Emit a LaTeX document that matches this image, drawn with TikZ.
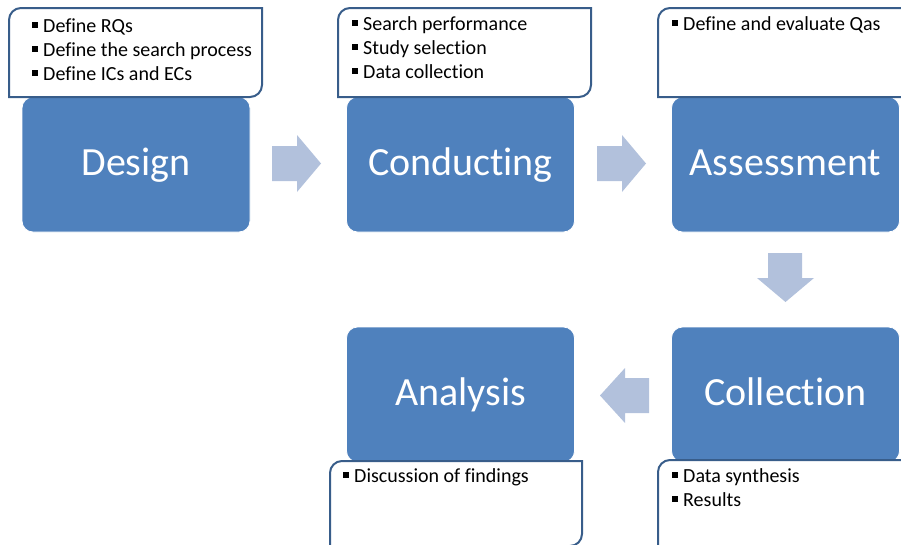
\documentclass[tikz,border=0pt]{standalone}
\usepackage{fontspec}
\setmainfont{Carlito}[Ligatures={NoCommon,NoRequired,NoContextual}]
\definecolor{boxblue}{HTML}{4F81BD}
\definecolor{arrowblue}{HTML}{B2C1DC}
\definecolor{noteline}{HTML}{385D8A}
\newcommand\bul{\raisebox{4.5pt}{\rule{5.5pt}{5.5pt}}\hspace{5.5pt}}
\newcommand\notedraw[4]{\draw[notebox] (#1,#2+12) .. controls (#1,#2+5.4) and (#1+5.4,#2) .. (#1+12,#2) -- (#3,#2) -- (#3,#4-12) .. controls (#3,#4-5.4) and (#3-5.4,#4) .. (#3-12,#4) -- (#1,#4) -- cycle;}
\tikzset{
  stage/.style={rounded corners=11pt, fill=boxblue, draw=white, line width=0.8pt,
    minimum width=228pt, minimum height=135pt, inner sep=0pt, text=white,
    font=\fontsize{40}{48}\selectfont, text height=22pt, text depth=0pt},
  notebox/.style={fill=white, draw=noteline, line width=2pt},
  item/.style={anchor=base west, inner sep=0pt, font=\fontsize{20}{24}\selectfont, text=black},
  blockarrow/.style={fill=arrowblue, draw=none}
}
\begin{document}
\begin{tikzpicture}[x=1pt,y=-1pt]
\useasboundingbox (0,0) rectangle (901,544);
\clip (0,0) rectangle (901,544);
% stages
\node[stage] (design) at (136,164.5) {Design};
\node[stage] (conducting) at (460.5,164.5) {Conducting};
\node[stage] (assessment) at (785.5,164.5) {Assessment};
\node[stage] (analysis) at (460.5,394.5) {Analysis};
\node[stage] (collection) at (785.5,394.5) {Collection};
% block arrows
\fill[blockarrow] (272,146) -- (297,146) -- (297,135) -- (321,163.5) -- (297,192) -- (297,181) -- (272,181) -- cycle;
\fill[blockarrow] (597,146) -- (622,146) -- (622,135) -- (646,163.5) -- (622,192) -- (622,181) -- (597,181) -- cycle;
\fill[blockarrow] (768,253) -- (802,253) -- (802,278) -- (814,278) -- (785.5,302) -- (757,278) -- (768,278) -- cycle;
\fill[blockarrow] (649,378) -- (625,378) -- (625,368) -- (600,395.5) -- (625,423) -- (625,413) -- (649,413) -- cycle;
% notes
\notedraw{9}{8}{262}{97}
\notedraw{338}{8}{591}{97}
\notedraw{658}{8}{915}{97}
\notedraw{330}{461}{582}{546}
\notedraw{658}{460}{915}{560}
% note texts
\node[item] (d1) at (32,32) {\bul Define RQs};
\node[item] (d2) at (32,56) {\bul Define the search process};
\node[item] (d3) at (32,80) {\bul Define ICs and ECs};
\node[item] (c1) at (352,30) {\bul Search performance};
\node[item] (c2) at (352,54) {\bul Study selection};
\node[item] (c3) at (352,78) {\bul Data collection};
\node[item] (a1) at (672,30) {\bul Define and evaluate Qas};
\node[item] (n1) at (343,482) {\bul Discussion of findings};
\node[item] (l1) at (672,482) {\bul Data synthesis};
\node[item] (l2) at (672,506) {\bul Results};
\end{tikzpicture}
\end{document}
